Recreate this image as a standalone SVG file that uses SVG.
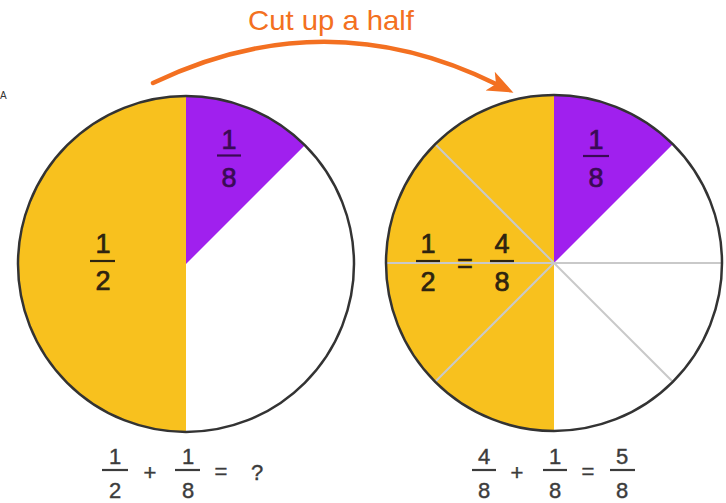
<svg xmlns="http://www.w3.org/2000/svg" width="726" height="503" viewBox="0 0 726 503">
<style>
.yel{fill:#F8C11E}
.pur{fill:#A020EE}
.rim{fill:none;stroke:#333;stroke-width:2.5}
.grid{stroke:#C9C9C9;stroke-width:2;fill:none}
.lab{font-family:"Liberation Sans",Arial,sans-serif;font-size:27px;text-anchor:middle;stroke-width:0.7}
.eq{font-family:"Liberation Sans",Arial,sans-serif;font-size:22px;text-anchor:middle;fill:#3C3C3C;stroke:#3C3C3C;stroke-width:0.4}
.bar{stroke-width:2.2}
.dy{fill:#2E2410;stroke:#2E2410}
.dp{fill:#3A0A55;stroke:#3A0A55}
.title{font-family:"Liberation Sans",Arial,sans-serif;font-size:28px;fill:#F37021}
</style>
<defs>
<marker id="ah" markerUnits="userSpaceOnUse" markerWidth="26" markerHeight="26" viewBox="0 0 20 20" refX="5" refY="10" orient="auto">
<path d="M0,2 L20,10 L0,18 L5,10 Z" fill="#F37021"/>
</marker>
</defs>
<text x="0" y="99" font-family="Liberation Sans, Arial, sans-serif" font-size="10" fill="#333">A</text>
<g id="title">
<text class="title" x="248" y="30" textLength="166" lengthAdjust="spacingAndGlyphs">Cut up a half</text>
</g>
<g id="connectors">
<path d="M153,83 Q326,0 496,84" fill="none" stroke="#F37021" stroke-width="4.5" stroke-linecap="round" marker-end="url(#ah)"/>
</g>
<g id="left-circle">
<circle cx="186" cy="264" r="168" fill="#fff"/>
<path class="yel" d="M186,96 A168,168 0 0 0 186,432 Z"/>
<path class="pur" d="M186,264 L186,96 A168,168 0 0 1 304.8,145.2 Z"/>
<circle class="rim" cx="186" cy="264" r="168"/>
<text class="lab dy" x="103" y="253">1</text>
<line class="bar" x1="90" y1="261" x2="115" y2="261" stroke="#2E2410"/>
<text class="lab dy" x="103" y="290">2</text>
<text class="lab dp" x="229" y="149">1</text>
<line class="bar" x1="217" y1="155.5" x2="241" y2="155.5" stroke="#3A0A55"/>
<text class="lab dp" x="229" y="187">8</text>
</g>
<g id="right-circle">
<circle cx="554" cy="263" r="168" fill="#fff"/>
<path class="yel" d="M554,95 A168,168 0 0 0 554,431 Z"/>
<path class="pur" d="M554,263 L554,95 A168,168 0 0 1 672.8,144.2 Z"/>
<line class="grid" x1="386" y1="263" x2="722" y2="263"/>
<line class="grid" x1="435.2" y1="144.2" x2="672.8" y2="381.8"/>
<line class="grid" x1="435.2" y1="381.8" x2="554" y2="263"/>
<circle class="rim" cx="554" cy="263" r="168"/>
<text class="lab dy" x="428" y="253">1</text>
<line class="bar" x1="416" y1="261" x2="440" y2="261" stroke="#2E2410"/>
<text class="lab dy" x="428" y="291">2</text>
<text class="lab dy" x="465" y="273">=</text>
<text class="lab dy" x="502" y="253">4</text>
<line class="bar" x1="490" y1="261" x2="514" y2="261" stroke="#2E2410"/>
<text class="lab dy" x="502" y="291">8</text>
<text class="lab dp" x="596" y="149">1</text>
<line class="bar" x1="583" y1="156" x2="609" y2="156" stroke="#3A0A55"/>
<text class="lab dp" x="596" y="187">8</text>
</g>
<g id="left-equation">
<text class="eq" x="115" y="464">1</text>
<line class="bar" x1="102" y1="470" x2="128" y2="470" stroke="#3C3C3C"/>
<text class="eq" x="115" y="498">2</text>
<text class="eq" x="150" y="480">+</text>
<text class="eq" x="188" y="464">1</text>
<line class="bar" x1="175" y1="470" x2="200" y2="470" stroke="#3C3C3C"/>
<text class="eq" x="188" y="498">8</text>
<text class="eq" x="221" y="479">=</text>
<text class="eq" x="257" y="480" font-size="26">?</text>
</g>
<g id="right-equation">
<text class="eq" x="484" y="464">4</text>
<line class="bar" x1="472" y1="470" x2="496" y2="470" stroke="#3C3C3C"/>
<text class="eq" x="484" y="498">8</text>
<text class="eq" x="517" y="480">+</text>
<text class="eq" x="555" y="464">1</text>
<line class="bar" x1="543" y1="470" x2="567" y2="470" stroke="#3C3C3C"/>
<text class="eq" x="555" y="498">8</text>
<text class="eq" x="588" y="479">=</text>
<text class="eq" x="622" y="464">5</text>
<line class="bar" x1="610" y1="470" x2="635" y2="470" stroke="#3C3C3C"/>
<text class="eq" x="622" y="498">8</text>
</g>
</svg>
